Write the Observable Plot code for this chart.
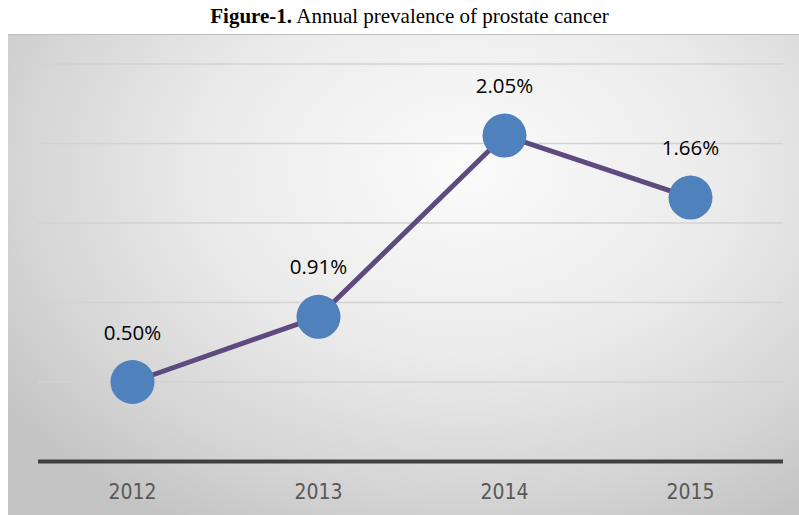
<!DOCTYPE html>
<html>
<head>
<meta charset="utf-8">
<script src="https://cdn.jsdelivr.net/npm/d3@7"></script>
<script src="https://cdn.jsdelivr.net/npm/@observablehq/plot@0.6"></script>
<style>
  html, body { margin: 0; padding: 0; background: #ffffff; }
  #title { height: 34px; box-sizing: border-box; padding-top: 4px; text-align: center;
           font-family: "Liberation Serif", "Times New Roman", serif; font-size: 21px; color: #000; padding-left: 20px; }
  #chart { margin-left: 8px; width: 791px; height: 481px; }
  #chart svg { display: block; }
</style>
</head>
<body>
<div id="title"><b>Figure-1.</b> Annual prevalence of prostate cancer</div>
<div id="chart"></div>
<script>
const years = ["2012", "2013", "2014", "2015"];
const prevalence = [0.50, 0.91, 2.05, 1.66];
const valueLabels = ["0.50%", "0.91%", "2.05%", "1.66%"];
const gridValues = [0.5, 1.0, 1.5, 2.0, 2.5];

const data = years.map((y, i) => ({year: y, value: prevalence[i], label: valueLabels[i]}));

const plot = Plot.plot({
  width: 791,
  height: 481,
  marginLeft: 30,
  marginRight: 16,
  marginTop: 28.5,
  marginBottom: 55,
  style: {
    background: "radial-gradient(ellipse 72% 85% at 58% 28%, #fbfbfb 0%, #ebebeb 45%, #d4d4d4 80%, #c4c4c4 100%)",
    borderTop: "1px solid #bdbdbd",
    overflow: "visible"
  },
  x: {type: "point", domain: years, padding: 0.5, label: null},
  y: {domain: [0, 2.5], label: null, axis: null},
  marks: [
    Plot.ruleY(gridValues, {stroke: "#d2d2d2", strokeWidth: 1.5}),
    Plot.ruleY([0], {stroke: "#404040", strokeWidth: 4}),
    Plot.axisX({tickSize: 0, tickPadding: 23, fontSize: 21, fill: "#595959",
                fontFamily: "'Liberation Sans Narrow', 'DejaVu Sans Condensed', sans-serif", stroke: null, label: null}),
    Plot.line(data, {x: "year", y: "value", stroke: "#5e4a7e", strokeWidth: 5}),
    Plot.dot(data, {x: "year", y: "value", r: 22, fill: "#4f81bd", stroke: "none"}),
    Plot.text(data, {x: "year", y: "value", text: "label", dy: -49, fontSize: 20.5,
                     fill: "#000", fontFamily: "'Open Sans', sans-serif"})
  ]
});
document.getElementById("chart").appendChild(plot);
</script>
</body>
</html>
